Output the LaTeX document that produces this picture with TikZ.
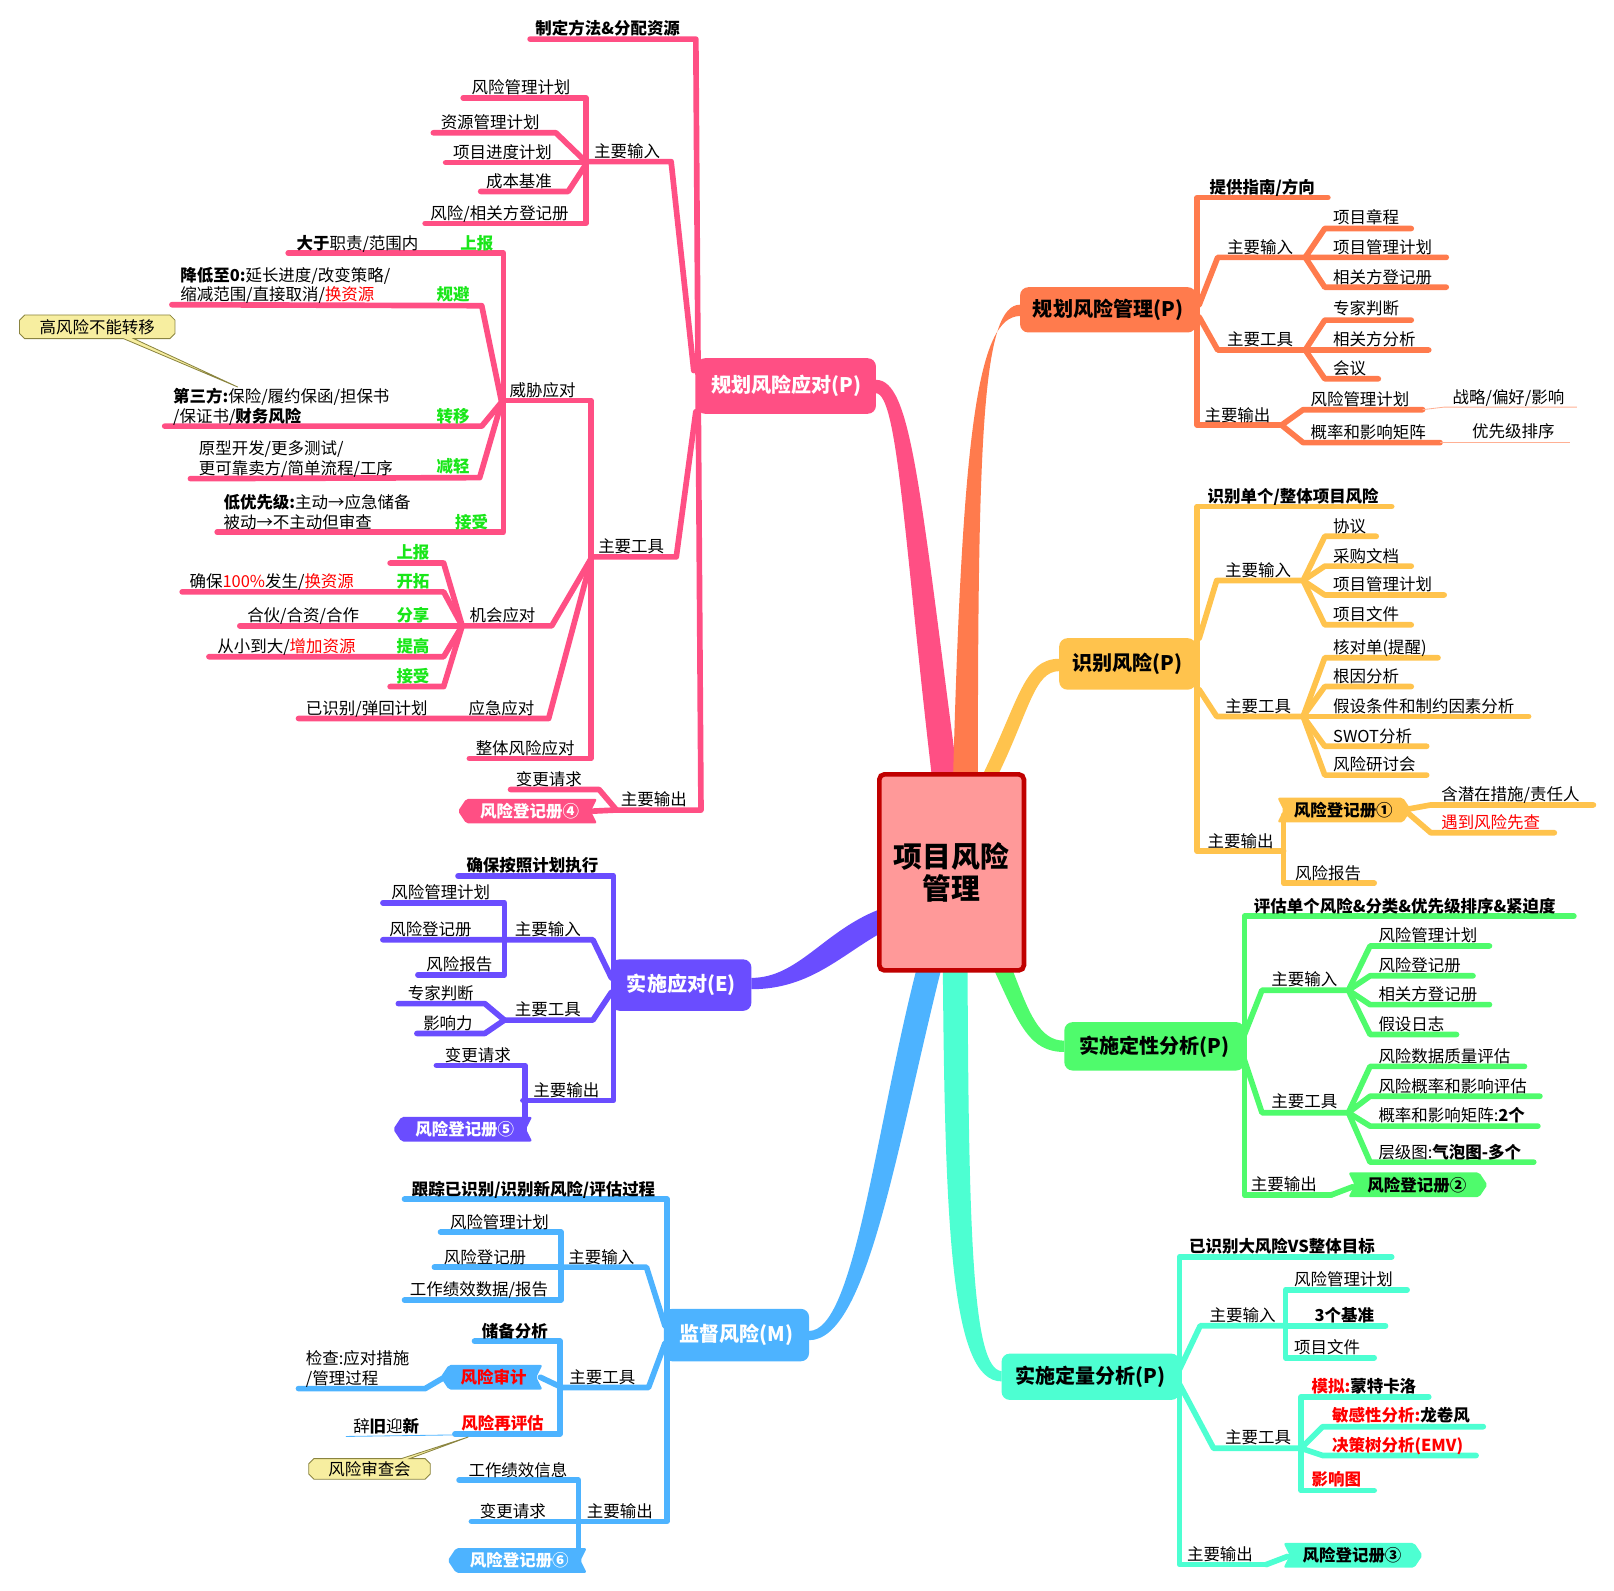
\documentclass[tikz,border=0pt]{standalone}
\usepackage{fontspec}
\setmainfont{Noto Sans CJK SC}
\definecolor{pk}{HTML}{FF4F84}
\definecolor{og}{HTML}{FF7B4D}
\definecolor{yl}{HTML}{FFC34D}
\definecolor{gn}{HTML}{4FFB6C}
\definecolor{aq}{HTML}{4DFFD2}
\definecolor{bl}{HTML}{4DB3FF}
\definecolor{pu}{HTML}{6A4DFF}
\definecolor{cfill}{HTML}{FF9999}
\definecolor{cbord}{HTML}{C00000}
\definecolor{lg}{HTML}{19E619}
\definecolor{rd}{HTML}{FF0000}
\definecolor{nfill}{HTML}{F7EEA0}
\definecolor{nbord}{HTML}{8A8440}
\newcommand\fn{\fontsize{16}{19}\selectfont}
\newcommand\gr[1]{\textcolor{lg}{\bfseries #1}}
\newcommand\rdt[1]{\textcolor{rd}{#1}}
\tikzset{
  tx/.style={anchor=base west, inner sep=0pt, font=\fn},
  tb/.style={tx, font=\fn\bfseries},
  br/.style={line width=5.5pt, line cap=round, line join=round},
  mn/.style={rounded corners=8pt, inner sep=0pt, font=\fontsize{19.5}{23}\selectfont\bfseries},
  tagtx/.style={inner sep=0pt, font=\fn\bfseries},
  thin/.style={line width=0.8pt}
}
% left-side tag: name, x1, x2, yc, fill, text colour, text
\newcommand\tagL[7]{%
  \fill[#5, rounded corners=2pt] (#2,#4) -- (#2+8,#4-12) -- (#3,#4-12) -- (#3-6,#4) -- (#3,#4+12) -- (#2+8,#4+12) -- cycle;
  \node[tagtx, text=#6] (#1) at ({(#2+#3)/2+2},#4) {#7};}
% right-side tag
\newcommand\tagR[7]{%
  \fill[#5, rounded corners=2pt] (#2,#4-12) -- (#3-8,#4-12) -- (#3,#4) -- (#3-8,#4+12) -- (#2,#4+12) -- (#2+6,#4) -- cycle;
  \node[tagtx, text=#6] (#1) at ({(#2+#3)/2-1},#4) {#7};}
\begin{document}
\begin{tikzpicture}[x=1pt,y=-1pt]
\useasboundingbox (0,0) rectangle (1568,1545);

% ---------- main connectors (tapered) ----------
\fill[pk] (851,369) .. controls (885,369) and (893,470) .. (930,752) -- (905,752) .. controls (878,520) and (872,383) .. (851,382) -- cycle;
\fill[og] (991,296) .. controls (955,296) and (950,420) .. (950,752) -- (926,752) .. controls (935,420) and (950,307) .. (991,307) -- cycle;
\fill[yl] (1029,640) .. controls (995,640) and (990,680) .. (955,752) -- (970,752) .. controls (1000,690) and (1005,652) .. (1029,652) -- cycle;
\fill[gn] (966,943) .. controls (990,995) and (1000,1022) .. (1034,1022) -- (1034,1011) .. controls (1010,1011) and (1000,985) .. (984,943) -- cycle;
\fill[aq] (916,943) .. controls (918,1200) and (925,1342) .. (973,1342) -- (973,1332) .. controls (945,1330) and (941,1200) .. (940,943) -- cycle;
\fill[bl] (890,943) .. controls (850,1100) and (830,1293) .. (786,1293) -- (786,1302) .. controls (842,1302) and (870,1120) .. (914,943) -- cycle;
\fill[pu] (853,884) .. controls (800,905) and (775,950) .. (730,950) -- (730,961) .. controls (785,961) and (815,930) .. (853,908) -- cycle;

% ---------- PINK branch lines ----------
\draw[br,pk] (515,38) -- (676,38) -- (681,787) -- (597,787);
\draw[br,pk] (569,157) -- (652,157) -- (674,360);
\draw[br,pk] (450,95) -- (569,95) -- (569,217) -- (413,217);
\draw[br,pk] (421,129) -- (540,129) -- (569,157);
\draw[br,pk] (433,158) -- (569,158);
\draw[br,pk] (467,186) -- (552,186) -- (569,160);
\draw[br,pk] (574,541) -- (657,541) -- (676,400);
\draw[br,pk] (489,389) -- (574,389) -- (574,737) -- (456,737);
\draw[br,pk] (280,246) -- (489,246) -- (489,517) -- (211,517);
\draw[br,pk] (167,296) -- (468,297) -- (487,389);
\draw[br,pk] (160,414) -- (468,414) -- (487,391);
\draw[br,pk] (185,465) -- (466,464) -- (487,392);
\draw[br,pk] (449,608) -- (536,608) -- (574,543);
\draw[br,pk] (379,547) -- (431,547) -- (449,608);
\draw[br,pk] (177,575) -- (431,575) -- (449,608);
\draw[br,pk] (233,608) -- (449,608);
\draw[br,pk] (203,638) -- (431,638) -- (449,608);
\draw[br,pk] (379,667) -- (431,667) -- (449,608);
\draw[br,pk] (290,698) -- (533,698) -- (574,545);
\draw[br,pk] (496,767) -- (582,767) -- (599,787);
\draw[br,pk] (576,788) -- (597,787);
\tagL{r4}{445}{580}{788}{pk}{white}{风险登记册④}

% ---------- ORANGE branch lines ----------
\draw[br,og] (1290,192) -- (1163,192) -- (1163,413) -- (1245,413);
\draw[br,og] (1165,296) -- (1183,250) -- (1268,250);
\draw[br,og] (1371,222) -- (1287,222) -- (1268,250) -- (1405,250);
\draw[br,og] (1268,250) -- (1287,279) -- (1405,279);
\draw[br,og] (1165,308) -- (1183,340) -- (1268,340);
\draw[br,og] (1371,311) -- (1287,311) -- (1268,340) -- (1388,340);
\draw[br,og] (1268,340) -- (1287,368) -- (1339,368);
\draw[br,og] (1245,413) -- (1266,398) -- (1382,398);
\draw[br,og] (1245,413) -- (1266,430) -- (1399,430);
\draw[thin,og!60] (1382,398) -- (1403,395.5) -- (1532,395.5);
\draw[thin,og!60] (1399,430) -- (1525,430);

% ---------- YELLOW branch lines ----------
\draw[br,yl] (1352,492) -- (1163,492) -- (1163,827) -- (1247,827);
\draw[br,yl] (1165,620) -- (1182,564) -- (1266,564);
\draw[br,yl] (1266,564) -- (1287,521) -- (1337,521);
\draw[br,yl] (1266,564) -- (1287,550) -- (1371,550);
\draw[br,yl] (1266,564) -- (1287,578) -- (1403,578);
\draw[br,yl] (1266,564) -- (1287,607) -- (1371,607);
\draw[br,yl] (1165,670) -- (1182,696) -- (1266,696);
\draw[br,yl] (1266,696) -- (1287,639) -- (1397,639);
\draw[br,yl] (1266,696) -- (1287,667) -- (1371,667);
\draw[br,yl] (1266,696) -- (1485,696);
\draw[br,yl] (1266,696) -- (1287,725) -- (1386,725);
\draw[br,yl] (1266,696) -- (1287,753) -- (1386,753);
\draw[br,yl] (1247,792) -- (1247,858) -- (1335,858);
\draw[br,yl] (1368,786) -- (1390,782) -- (1548,782);
\draw[br,yl] (1368,790) -- (1390,809) -- (1510,809);
\tagR{r1}{1241}{1371}{787}{yl}{black}{风险登记册①}

% ---------- GREEN branch lines ----------
\draw[br,gn] (1529,890) -- (1209,890) -- (1209,1161) -- (1293,1161);
\draw[br,gn] (1209,1005) -- (1226,962) -- (1310,962);
\draw[br,gn] (1310,962) -- (1331,919) -- (1447,919);
\draw[br,gn] (1310,962) -- (1331,948) -- (1431,948);
\draw[br,gn] (1310,962) -- (1331,976) -- (1447,976);
\draw[br,gn] (1310,962) -- (1331,1005) -- (1415,1005);
\draw[br,gn] (1209,1030) -- (1226,1081) -- (1310,1081);
\draw[br,gn] (1310,1081) -- (1331,1036) -- (1481,1036);
\draw[br,gn] (1310,1081) -- (1331,1065) -- (1496,1065);
\draw[br,gn] (1310,1081) -- (1331,1094) -- (1494,1094);
\draw[br,gn] (1310,1081) -- (1331,1129) -- (1490,1129);
\draw[br,gn] (1293,1161) -- (1314,1153);
\tagR{r2}{1310}{1445}{1151}{gn}{black}{风险登记册②}

% ---------- AQUA branch lines ----------
\draw[br,aq] (1352,1221) -- (1146,1221) -- (1146,1520) -- (1230,1520);
\draw[br,aq] (1146,1330) -- (1166,1288) -- (1249,1288);
\draw[br,aq] (1367,1253) -- (1249,1253) -- (1249,1319) -- (1335,1319);
\draw[br,aq] (1249,1288) -- (1346,1288);
\draw[br,aq] (1146,1345) -- (1179,1407) -- (1264,1407);
\draw[br,aq] (1388,1357) -- (1264,1357) -- (1264,1448) -- (1335,1448);
\draw[br,aq] (1264,1407) -- (1285,1386) -- (1441,1386);
\draw[br,aq] (1264,1407) -- (1285,1414) -- (1434,1414);
\draw[br,aq] (1230,1520) -- (1251,1512);
\tagR{r3}{1247}{1382}{1511}{aq}{black}{风险登记册③}

% ---------- BLUE branch lines ----------
\draw[br,bl] (393,1165) -- (648,1165) -- (648,1478) -- (560,1478);
\draw[br,bl] (545,1231) -- (628,1231) -- (646,1288);
\draw[br,bl] (428,1197) -- (545,1197) -- (545,1263) -- (393,1263);
\draw[br,bl] (422,1231) -- (545,1231);
\draw[br,bl] (545,1348) -- (630,1348) -- (646,1305);
\draw[br,bl] (461,1303) -- (544,1303) -- (544,1393) -- (442,1393);
\draw[br,bl] (525,1338) -- (546,1348);
\draw[br,bl] (290,1349) -- (413,1349) -- (430,1339);
\draw[thin,bl] (336,1395.5) -- (442,1394);
\draw[br,bl] (446,1438) -- (562,1438) -- (562,1510);
\draw[br,bl] (458,1478) -- (562,1478);
\tagL{r6}{435}{570}{1516}{bl}{white}{风险登记册⑥}
\tagL{audit}{428}{527}{1338}{bl}{rd}{风险审计}

% ---------- PURPLE branch lines ----------
\draw[br,pu] (445,851) -- (596,851) -- (596,1069) -- (508,1069);
\draw[br,pu] (372,913) -- (576,913) -- (594,950);
\draw[br,pu] (372,877) -- (490,877) -- (490,947) -- (406,947);
\draw[br,pu] (490,991) -- (576,991) -- (594,964);
\draw[br,pu] (387,975) -- (471,975) -- (490,991);
\draw[br,pu] (405,1004) -- (471,1004) -- (490,991);
\draw[br,pu] (424,1035) -- (510,1035) -- (510,1088);
\tagL{r5}{382}{517}{1097}{pu}{white}{风险登记册⑤}

% ---------- callouts ----------
\draw[nbord, fill=nfill, thin] (24,306) -- (165,306) -- (170,311) -- (170,324) -- (165,329) -- (130,329) -- (231,376) -- (120,329) -- (24,329) -- (19,324) -- (19,311) -- cycle;
\node[inner sep=0pt, font=\fn] (call1) at (94.5,318) {高风险不能转移};
\draw[nbord, fill=nfill, thin] (305,1417) -- (390,1417) -- (455,1396) -- (398,1417) -- (413,1417) -- (418,1422) -- (418,1432) -- (413,1437) -- (305,1437) -- (300,1432) -- (300,1422) -- cycle;
\node[inner sep=0pt, font=\fn] (call2) at (359,1427.5) {风险审查会};

% ---------- main nodes ----------
\node[mn, fill=pk, text=white, minimum width=174, minimum height=54] (P1) at (764,375) {规划风险应对(P)};
\node[mn, fill=og, minimum width=171, minimum height=44] (P2) at (1076.5,301) {规划风险管理(P)};
\node[mn, fill=yl, minimum width=133, minimum height=50] (P3) at (1095.5,645) {识别风险(P)};
\node[mn, fill=gn, minimum width=175, minimum height=47] (P4) at (1121.5,1016.5) {实施定性分析(P)};
\node[mn, fill=aq, minimum width=173, minimum height=45] (P5) at (1059.5,1337.5) {实施定量分析(P)};
\node[mn, fill=bl, text=white, minimum width=141, minimum height=51] (P6) at (715.5,1297) {监督风险(M)};
\node[mn, fill=pu, text=white, minimum width=136, minimum height=50] (P7) at (662,957) {实施应对(E)};
\node[draw=cbord, line width=4.5pt, fill=cfill, rounded corners=5pt, minimum width=140.5, minimum height=190.5, align=center, inner sep=0pt, font=\fontsize{28}{31}\selectfont\bfseries] (C) at (924.5,847.5) {项目风险\\管理};

% ---------- PINK texts ----------
\node[tb] (a1) at (520,34) {制定方法\&分配资源};
\node[tx] (a2) at (577,153) {主要输入};
\node[tx] (a3) at (458,91) {风险管理计划};
\node[tx] (a4) at (428,125) {资源管理计划};
\node[tx] (a5) at (440,154) {项目进度计划};
\node[tx] (a6) at (472,182) {成本基准};
\node[tx] (a7) at (418,213) {风险/相关方登记册};
\node[tx] (a8) at (288,242) {{\bfseries 大于}职责/范围内};
\node[tx] (a9) at (447,242) {\gr{上报}};
\node[tx] (a10) at (175,273) {{\bfseries 降低至0:}延长进度/改变策略/};
\node[tx] (a11) at (175,292) {缩减范围/直接取消/\rdt{换资源}};
\node[tx] (a12) at (424,292) {\gr{规避}};
\node[tx] (a13) at (168,391) {{\bfseries 第三方:}保险/履约保函/担保书};
\node[tx] (a14) at (168,410) {/保证书/{\bfseries 财务风险}};
\node[tx] (a15) at (424,410) {\gr{转移}};
\node[tx] (a16) at (193,442) {原型开发/更多测试/};
\node[tx] (a17) at (193,461) {更可靠卖方/简单流程/工序};
\node[tx] (a18) at (424,459) {\gr{减轻}};
\node[tx] (a19) at (217,494) {{\bfseries 低优先级:}主动→应急储备};
\node[tx] (a20) at (217,513) {被动→不主动但审查};
\node[tx] (a21) at (442,513) {\gr{接受}};
\node[tx] (a22) at (495,385) {威胁应对};
\node[tx] (a23) at (456,604) {机会应对};
\node[tx] (a24) at (385,543) {\gr{上报}};
\node[tx] (a25) at (184,571) {确保\rdt{100\%}发生/\rdt{换资源}};
\node[tx] (a26) at (385,571) {\gr{开拓}};
\node[tx] (a27) at (240,604) {合伙/合资/合作};
\node[tx] (a28) at (385,604) {\gr{分享}};
\node[tx] (a29) at (211,634) {从小到大/\rdt{增加资源}};
\node[tx] (a30) at (385,634) {\gr{提高}};
\node[tx] (a31) at (385,663) {\gr{接受}};
\node[tx] (a32) at (297,694) {已识别/弹回计划};
\node[tx] (a33) at (455,694) {应急应对};
\node[tx] (a34) at (462,733) {整体风险应对};
\node[tx] (a35) at (581,537) {主要工具};
\node[tx] (a36) at (501,763) {变更请求};
\node[tx] (a37) at (603,783) {主要输出};

% ---------- ORANGE texts ----------
\node[tb] (b1) at (1175,188) {提供指南/方向};
\node[tx] (b2) at (1192,246) {主要输入};
\node[tx] (b3) at (1295,217) {项目章程};
\node[tx] (b4) at (1295,246) {项目管理计划};
\node[tx] (b5) at (1295,275) {相关方登记册};
\node[tx] (b6) at (1192,336) {主要工具};
\node[tx] (b7) at (1295,306) {专家判断};
\node[tx] (b8) at (1295,336) {相关方分析};
\node[tx] (b9) at (1295,364) {会议};
\node[tx] (b10) at (1170,409) {主要输出};
\node[tx] (b11) at (1273,394) {风险管理计划};
\node[tx] (b12) at (1273,426) {概率和影响矩阵};
\node[tx] (b13) at (1411,392) {战略/偏好/影响};
\node[tx] (b14) at (1430,425) {优先级排序};

% ---------- YELLOW texts ----------
\node[tb] (c1) at (1173,488) {识别单个/整体项目风险};
\node[tx] (c2) at (1190,560) {主要输入};
\node[tx] (c3) at (1295,517) {协议};
\node[tx] (c4) at (1295,546) {采购文档};
\node[tx] (c5) at (1295,574) {项目管理计划};
\node[tx] (c6) at (1295,603) {项目文件};
\node[tx] (c7) at (1190,692) {主要工具};
\node[tx] (c8) at (1295,635) {核对单(提醒)};
\node[tx] (c9) at (1295,663) {根因分析};
\node[tx] (c10) at (1295,692) {假设条件和制约因素分析};
\node[tx] (c11) at (1295,721) {SWOT分析};
\node[tx] (c12) at (1295,749) {风险研讨会};
\node[tx] (c13) at (1173,823) {主要输出};
\node[tx] (c14) at (1400,778) {含潜在措施/责任人};
\node[tx] (c15) at (1400,805) {\rdt{遇到风险先查}};
\node[tx] (c16) at (1258,854) {风险报告};

% ---------- GREEN texts ----------
\node[tb] (d1) at (1218,886) {评估单个风险\&分类\&优先级排序\&紧迫度};
\node[tx] (d2) at (1235,957) {主要输入};
\node[tx] (d3) at (1339,915) {风险管理计划};
\node[tx] (d4) at (1339,944) {风险登记册};
\node[tx] (d5) at (1339,972) {相关方登记册};
\node[tx] (d6) at (1339,1001) {假设日志};
\node[tx] (d7) at (1235,1076) {主要工具};
\node[tx] (d8) at (1339,1032) {风险数据质量评估};
\node[tx] (d9) at (1339,1061) {风险概率和影响评估};
\node[tx] (d10) at (1339,1090) {概率和影响矩阵:{\bfseries 2个}};
\node[tx] (d11) at (1339,1125) {层级图:{\bfseries 气泡图-多个}};
\node[tx] (d12) at (1215,1157) {主要输出};

% ---------- AQUA texts ----------
\node[tb] (e1) at (1155,1217) {已识别大风险VS整体目标};
\node[tx] (e2) at (1175,1284) {主要输入};
\node[tx] (e3) at (1257,1249) {风险管理计划};
\node[tb] (e4) at (1277,1284) {3个基准};
\node[tx] (e5) at (1257,1315) {项目文件};
\node[tx] (e6) at (1190,1402) {主要工具};
\node[tb] (e7) at (1274,1353) {\rdt{模拟:}蒙特卡洛};
\node[tb] (e8) at (1294,1381) {\rdt{敏感性分析:}龙卷风};
\node[tb] (e9) at (1294,1410) {\rdt{决策树分析(EMV)}};
\node[tb] (e10) at (1274,1443) {\rdt{影响图}};
\node[tx] (e11) at (1153,1516) {主要输出};

% ---------- BLUE texts ----------
\node[tb] (f1) at (400,1161) {跟踪已识别/识别新风险/评估过程};
\node[tx] (f2) at (552,1227) {主要输入};
\node[tx] (f3) at (437,1193) {风险管理计划};
\node[tx] (f4) at (431,1227) {风险登记册};
\node[tx] (f5) at (398,1259) {工作绩效数据/报告};
\node[tx] (f6) at (553,1344) {主要工具};
\node[tb] (f7) at (468,1299) {储备分析};
\node[tx] (f8) at (297,1326) {检查:应对措施};
\node[tx] (f9) at (297,1345) {/管理过程};
\node[tb] (f10) at (448,1389) {\rdt{风险再评估}};
\node[tx] (f11) at (343,1392) {辞{\bfseries 旧}迎{\bfseries 新}};
\node[tx] (f12) at (455,1434) {工作绩效信息};
\node[tx] (f13) at (466,1474) {变更请求};
\node[tx] (f14) at (570,1474) {主要输出};

% ---------- PURPLE texts ----------
\node[tb] (g1) at (453,847) {确保按照计划执行};
\node[tx] (g2) at (500,909) {主要输入};
\node[tx] (g3) at (380,873) {风险管理计划};
\node[tx] (g4) at (378,909) {风险登记册};
\node[tx] (g5) at (414,943) {风险报告};
\node[tx] (g6) at (500,987) {主要工具};
\node[tx] (g7) at (396,971) {专家判断};
\node[tx] (g8) at (411,1000) {影响力};
\node[tx] (g9) at (518,1065) {主要输出};
\node[tx] (g10) at (432,1031) {变更请求};
\end{tikzpicture}
\end{document}
